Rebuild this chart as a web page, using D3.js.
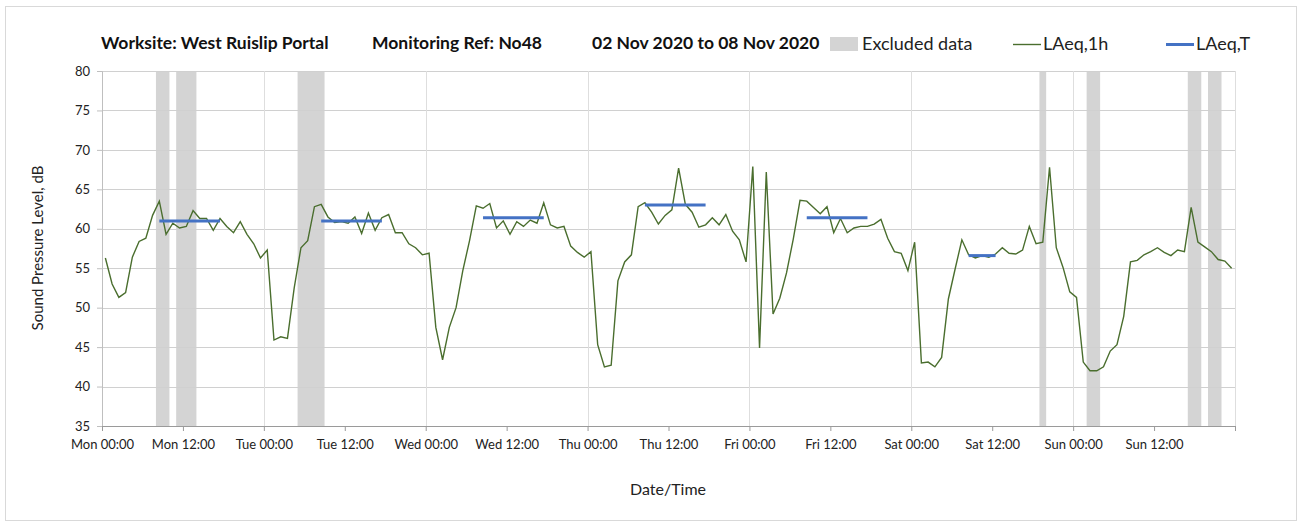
<!DOCTYPE html>
<html>
<head>
<meta charset="utf-8">
<script src="https://cdn.jsdelivr.net/npm/d3@7"></script>
<style>
  body { margin: 0; background: #fff; }
  svg { display: block; font-family: Lato, "Open Sans", sans-serif; }
</style>
</head>
<body>
<div id="chart"></div>
<script>
// hourly LAeq,1h values, Mon 00:00 .. Sun 23:00
const laeq1h = [
  56.3, 53.0, 51.3, 51.9, 56.4, 58.4, 58.8, 61.7, 63.5, 59.3, 60.7, 60.1,
  60.3, 62.3, 61.3, 61.3, 59.8, 61.3, 60.3, 59.5, 60.9, 59.3, 58.1, 56.3,
  57.3, 45.9, 46.3, 46.1, 52.5, 57.6, 58.5, 62.8, 63.1, 61.5, 60.8, 60.9,
  60.7, 61.5, 59.4, 62.0, 59.8, 61.4, 61.8, 59.5, 59.5, 58.1, 57.6, 56.7,
  56.9, 47.5, 43.4, 47.5, 50.0, 54.7, 58.5, 62.9, 62.6, 63.2, 60.1, 61.0,
  59.3, 60.9, 60.3, 61.1, 60.7, 63.3, 60.5, 60.1, 60.3, 57.8, 57.0, 56.4,
  57.1, 45.3, 42.5, 42.7, 53.4, 55.8, 56.7, 62.8, 63.3, 62.1, 60.6, 61.7,
  62.4, 67.7, 63.1, 62.1, 60.2, 60.5, 61.4, 60.5, 61.8, 59.7, 58.6, 55.8,
  67.9, 44.9, 67.2, 49.2, 51.2, 54.4, 58.7, 63.6, 63.5, 62.7, 61.9, 62.8,
  59.5, 61.3, 59.5, 60.1, 60.3, 60.3, 60.6, 61.2, 58.8, 57.1, 56.9, 54.7,
  58.3, 43.0, 43.1, 42.5, 43.7, 51.1, 54.9, 58.6, 56.7, 56.3, 56.6, 56.4,
  56.8, 57.6, 56.9, 56.8, 57.3, 60.3, 58.1, 58.3, 67.8, 57.6, 55.1, 52.0,
  51.3, 43.1, 42.0, 42.0, 42.5, 44.5, 45.3, 48.9, 55.8, 56.0, 56.7, 57.1,
  57.6, 57.0, 56.6, 57.3, 57.1, 62.7, 58.3, 57.7, 57.1, 56.1, 55.9, 55.0
];

// hours flagged as excluded
const excludedHours = [8, 9, 11, 12, 13, 29, 30, 31, 32, 139, 146, 147, 161, 162, 164, 165];

// LAeq,T daytime periods (hour index from, to, level)
const laeqTStart = [8, 32, 56, 80, 104, 128];
const laeqTEnd   = [17, 41, 65, 89, 113, 132];
const laeqTValue = [61.0, 61.0, 61.4, 63.0, 61.4, 56.6];

const dayNames = ["Mon", "Tue", "Wed", "Thu", "Fri", "Sat", "Sun"];
const yTicks = [35, 40, 45, 50, 55, 60, 65, 70, 75, 80];

const W = 1301, H = 523;
const svg = d3.select("#chart").append("svg").attr("width", W).attr("height", H);

svg.append("rect").attr("x", 5.5).attr("y", 6.5).attr("width", 1291).attr("height", 514)
  .attr("fill", "#fff").attr("stroke", "#d9d9d9");

const x = d3.scaleLinear().domain([0, 168]).range([102, 1235]);
const y = d3.scaleLinear().domain([35, 80]).range([426, 71]);

// merge consecutive excluded hours into runs so the bands have no seams
const runs = [];
excludedHours.forEach(h => {
  const last = runs[runs.length - 1];
  if (last && last[1] === h) last[1] = h + 1;
  else runs.push([h, h + 1]);
});

svg.append("g").selectAll("rect").data(runs).join("rect")
  .attr("x", d => x(d[0])).attr("width", d => x(d[1]) - x(d[0]))
  .attr("y", y(80)).attr("height", y(35) - y(80))
  .attr("fill", "#d4d4d4");

// horizontal grid
svg.append("g").selectAll("line").data(yTicks.filter(d => d > 35)).join("line")
  .attr("x1", x(0)).attr("x2", x(168))
  .attr("y1", d => Math.round(y(d)) + 0.5).attr("y2", d => Math.round(y(d)) + 0.5)
  .attr("stroke", "#d0d0d0");

// vertical day grid
svg.append("g").selectAll("line").data(d3.range(24, 169, 24)).join("line")
  .attr("x1", d => Math.round(x(d)) + 0.5).attr("x2", d => Math.round(x(d)) + 0.5)
  .attr("y1", y(80)).attr("y2", y(35))
  .attr("stroke", "#dedede");

// y axis
const yAxis = svg.append("g").attr("transform", `translate(${x(0)},0)`)
  .call(d3.axisLeft(y).tickValues(yTicks).tickSize(5).tickPadding(7));
yAxis.select(".domain").attr("stroke", "#bfbfbf");
yAxis.selectAll(".tick line").attr("stroke", "#bfbfbf");
yAxis.selectAll("text").attr("font-size", 13).attr("fill", "#222").attr("font-family", "Lato");

// x axis
const xAxis = svg.append("g").attr("transform", `translate(0,${y(35)})`)
  .call(d3.axisBottom(x).tickValues(d3.range(0, 169, 12)).tickSize(5).tickPadding(9)
    .tickFormat(d => d >= 168 ? "" : `${dayNames[Math.floor(d / 24)]} ${d % 24 === 0 ? "00" : "12"}:00`));
xAxis.select(".domain").attr("stroke", "#9a9a9a");
xAxis.selectAll(".tick line").attr("stroke", "#9a9a9a");
xAxis.selectAll("text").attr("font-size", 13).attr("fill", "#222").attr("font-family", "Lato");

// LAeq,1h line
svg.append("path").datum(laeq1h)
  .attr("d", d3.line().x((d, i) => x(i + 0.5)).y(d => y(d)))
  .attr("fill", "none").attr("stroke", "#4a6e2e").attr("stroke-width", 1.4);

// LAeq,T lines
svg.append("g").selectAll("line").data(laeqTValue).join("line")
  .attr("x1", (d, i) => x(laeqTStart[i] + 0.5)).attr("x2", (d, i) => x(laeqTEnd[i] + 0.5))
  .attr("y1", d => y(d)).attr("y2", d => y(d))
  .attr("stroke", "#4472c4").attr("stroke-width", 3);

// axis titles
svg.append("text").attr("x", 668).attr("y", 495).attr("text-anchor", "middle")
  .attr("font-size", 16).attr("fill", "#222").text("Date/Time");
svg.append("text").attr("transform", "translate(43,248) rotate(-90)").attr("text-anchor", "middle")
  .attr("font-size", 15).attr("fill", "#222").text("Sound Pressure Level, dB");

// title
const title = svg.append("g").attr("font-weight", "bold").attr("font-size", 17.5).attr("fill", "#111");
title.append("text").attr("x", 101).attr("y", 49).text("Worksite: West Ruislip Portal");
title.append("text").attr("x", 372).attr("y", 49).text("Monitoring Ref: No48");
title.append("text").attr("x", 592).attr("y", 49).text("02 Nov 2020 to 08 Nov 2020");

// legend
const lg = svg.append("g").attr("font-size", 18).attr("fill", "#222");
lg.append("rect").attr("x", 830).attr("y", 37).attr("width", 28).attr("height", 14).attr("fill", "#d4d4d4");
lg.append("text").attr("x", 862).attr("y", 50).text("Excluded data");
lg.append("line").attr("x1", 1013).attr("x2", 1041).attr("y1", 44.5).attr("y2", 44.5)
  .attr("stroke", "#4a6e2e").attr("stroke-width", 1.4);
lg.append("text").attr("x", 1043).attr("y", 50).text("LAeq,1h");
lg.append("line").attr("x1", 1166).attr("x2", 1194).attr("y1", 44.5).attr("y2", 44.5)
  .attr("stroke", "#4472c4").attr("stroke-width", 3);
lg.append("text").attr("x", 1196).attr("y", 50).text("LAeq,T");
</script>
</body>
</html>
